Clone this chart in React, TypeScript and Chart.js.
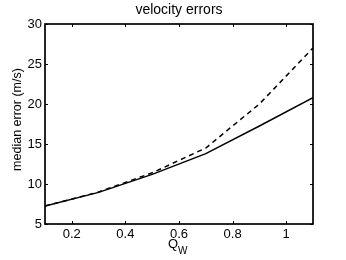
import { useEffect, useRef } from "react";
import { Chart, registerables } from "chart.js";

Chart.register(...registerables);

const qw = [0.1, 0.3, 0.5, 0.7, 0.9, 1.1];
const solidErr = [7.25, 8.95, 11.2, 13.8, 17.25, 20.8];
const dashedErr = [7.25, 9.0, 11.4, 14.5, 20.0, 27.0];
const xTicks = [0.2, 0.4, 0.6, 0.8, 1.0];
const yTicks = [5, 10, 15, 20, 25, 30];
const titleText = "velocity errors";
const yTitleText = "median error (m/s)";
const xTitleMain = "Q";
const xTitleSub = "W";

const FONT = "'Liberation Sans', Arial, Helvetica, sans-serif";

const framePlugin = {
  id: "matlabFrame",
  afterDraw(chart: any) {
    const { ctx, chartArea, scales } = chart;
    const { left, right, top, bottom } = chartArea;
    const x = scales.x;
    const y = scales.y;
    ctx.save();
    ctx.strokeStyle = "#000";
    ctx.lineWidth = 1.7;
    ctx.strokeRect(left, top, right - left, bottom - top);
    ctx.lineWidth = 1;
    ctx.beginPath();
    const tl = 3;
    for (const v of xTicks) {
      const px = Math.round(x.getPixelForValue(v)) + 0.5;
      ctx.moveTo(px, bottom);
      ctx.lineTo(px, bottom - tl);
      ctx.moveTo(px, top);
      ctx.lineTo(px, top + tl);
    }
    for (const v of yTicks) {
      const py = Math.round(y.getPixelForValue(v)) + 0.5;
      ctx.moveTo(left, py);
      ctx.lineTo(left + tl, py);
      ctx.moveTo(right, py);
      ctx.lineTo(right - tl, py);
    }
    ctx.stroke();

    ctx.fillStyle = "#000";
    // y axis title
    ctx.save();
    ctx.translate(21, 119.5);
    ctx.rotate(-Math.PI / 2);
    ctx.font = `12.5px ${FONT}`;
    ctx.textAlign = "center";
    ctx.textBaseline = "alphabetic";
    ctx.fillText(yTitleText, 0, 0);
    ctx.restore();

    // x axis title Q_W
    ctx.textAlign = "left";
    ctx.textBaseline = "alphabetic";
    ctx.font = `13px ${FONT}`;
    ctx.fillText(xTitleMain, 168, 247.5);
    const qWidth = ctx.measureText(xTitleMain).width;
    ctx.font = `10px ${FONT}`;
    ctx.fillText(xTitleSub, 168 + qWidth, 254);
    ctx.restore();
  },
};

export default function App() {
  const canvasRef = useRef<HTMLCanvasElement | null>(null);

  useEffect(() => {
    document.body.style.margin = "0";
    const canvas = canvasRef.current;
    if (!canvas) return;
    const chart = new Chart(canvas, {
      type: "line",
      data: {
        datasets: [
          {
            data: qw.map((v, i) => ({ x: v, y: solidErr[i] })),
            borderColor: "#000",
            borderWidth: 1.5,
            pointRadius: 0,
            tension: 0,
            fill: false,
          },
          {
            data: qw.map((v, i) => ({ x: v, y: dashedErr[i] })),
            borderColor: "#000",
            borderWidth: 1.5,
            borderDash: [5, 4],
            pointRadius: 0,
            tension: 0,
            fill: false,
          },
        ],
      },
      options: {
        animation: false,
        responsive: false,
        devicePixelRatio: 1,
        layout: { padding: { left: 0, right: 33, top: 0, bottom: 0 } },
        plugins: {
          legend: { display: false },
          tooltip: { enabled: false },
          title: {
            display: true,
            text: titleText,
            fullSize: false,
            color: "#000",
            font: { family: FONT, size: 14, weight: "normal" },
            padding: { top: 2, bottom: 5.2 },
          },
        },
        scales: {
          x: {
            type: "linear",
            min: 0.1,
            max: 1.1,
            afterBuildTicks: (s: any) => {
              s.ticks = xTicks.map((v) => ({ value: v }));
            },
            afterFit: (s: any) => {
              s.height = 36;
            },
            grid: { display: false, drawTicks: false },
            border: { display: false },
            ticks: {
              color: "#000",
              padding: 3,
              maxRotation: 0,
              autoSkip: false,
              font: { family: FONT, size: 13 },
              callback: (v: any) => String(Number(v)),
            },
          },
          y: {
            type: "linear",
            min: 5,
            max: 30,
            afterBuildTicks: (s: any) => {
              s.ticks = yTicks.map((v) => ({ value: v }));
            },
            afterFit: (s: any) => {
              s.width = 45;
            },
            grid: { display: false, drawTicks: false },
            border: { display: false },
            ticks: {
              color: "#000",
              padding: 3,
              autoSkip: false,
              font: { family: FONT, size: 13 },
              callback: (v: any) => String(Number(v)),
            },
          },
        },
      },
      plugins: [framePlugin],
    });
    return () => chart.destroy();
  }, []);

  return (
    <div style={{ width: 346, height: 260 }}>
      <canvas ref={canvasRef} width={346} height={260} style={{ display: "block" }} />
    </div>
  );
}
